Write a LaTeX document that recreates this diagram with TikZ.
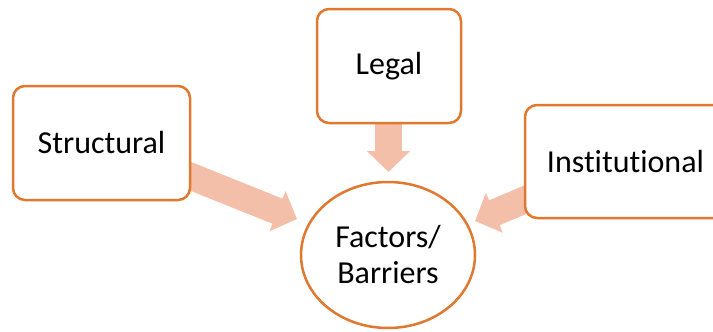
\documentclass[tikz,border=0pt]{standalone}
\usepackage{fontspec}
\setmainfont{Carlito}[Ligatures=CommonOff]
\usetikzlibrary{shapes.geometric, arrows.meta}

\definecolor{boxline}{HTML}{E0782F}
\definecolor{arrowfill}{HTML}{F4BFA9}

\begin{document}
\begin{tikzpicture}[
	x=1pt, y=-1pt,
	factor/.style={draw=boxline, line width=2.5pt, rounded corners=12pt, fill=white, inner sep=0pt, align=center, font=\fontsize{32}{37}\selectfont},
	hub/.style={ellipse, draw=boxline, line width=2.5pt, fill=white, inner sep=0pt, align=center, minimum width=174pt, minimum height=146pt, font=\fontsize{32}{36}\selectfont},
	feed/.style={draw=arrowfill, line width=27pt, -{Triangle[length=21pt, width=42pt]}}
]
\useasboundingbox (0,0) rectangle (713,332);
\clip (0,0) rectangle (713,332);

% Arrow tails go under the boxes
\coordinate (structTail) at (160,164);
\coordinate (structTip) at (297,219);
\coordinate (legalTail) at (388.5,100);
\coordinate (legalTip) at (388.5,172);
\coordinate (instTail) at (560,185);
\coordinate (instTip) at (475,221);

\draw[feed] (structTail) -- (structTip);
\draw[feed] (legalTail) -- (legalTip);
\draw[feed] (instTail) -- (instTip);

% Boxes
\node[factor, minimum width=177pt, minimum height=114pt] (structural) at (101.5,143) {Structural};
\node[factor, minimum width=144pt, minimum height=114pt] (legal) at (389,66) {Legal};
\node[factor, minimum width=201pt, minimum height=113pt] (institutional) at (625.5,161.5) {Institutional};

% Centre
\node[hub] (barriers) at (388,255) {Factors/\\Barriers};

\end{tikzpicture}
\end{document}
